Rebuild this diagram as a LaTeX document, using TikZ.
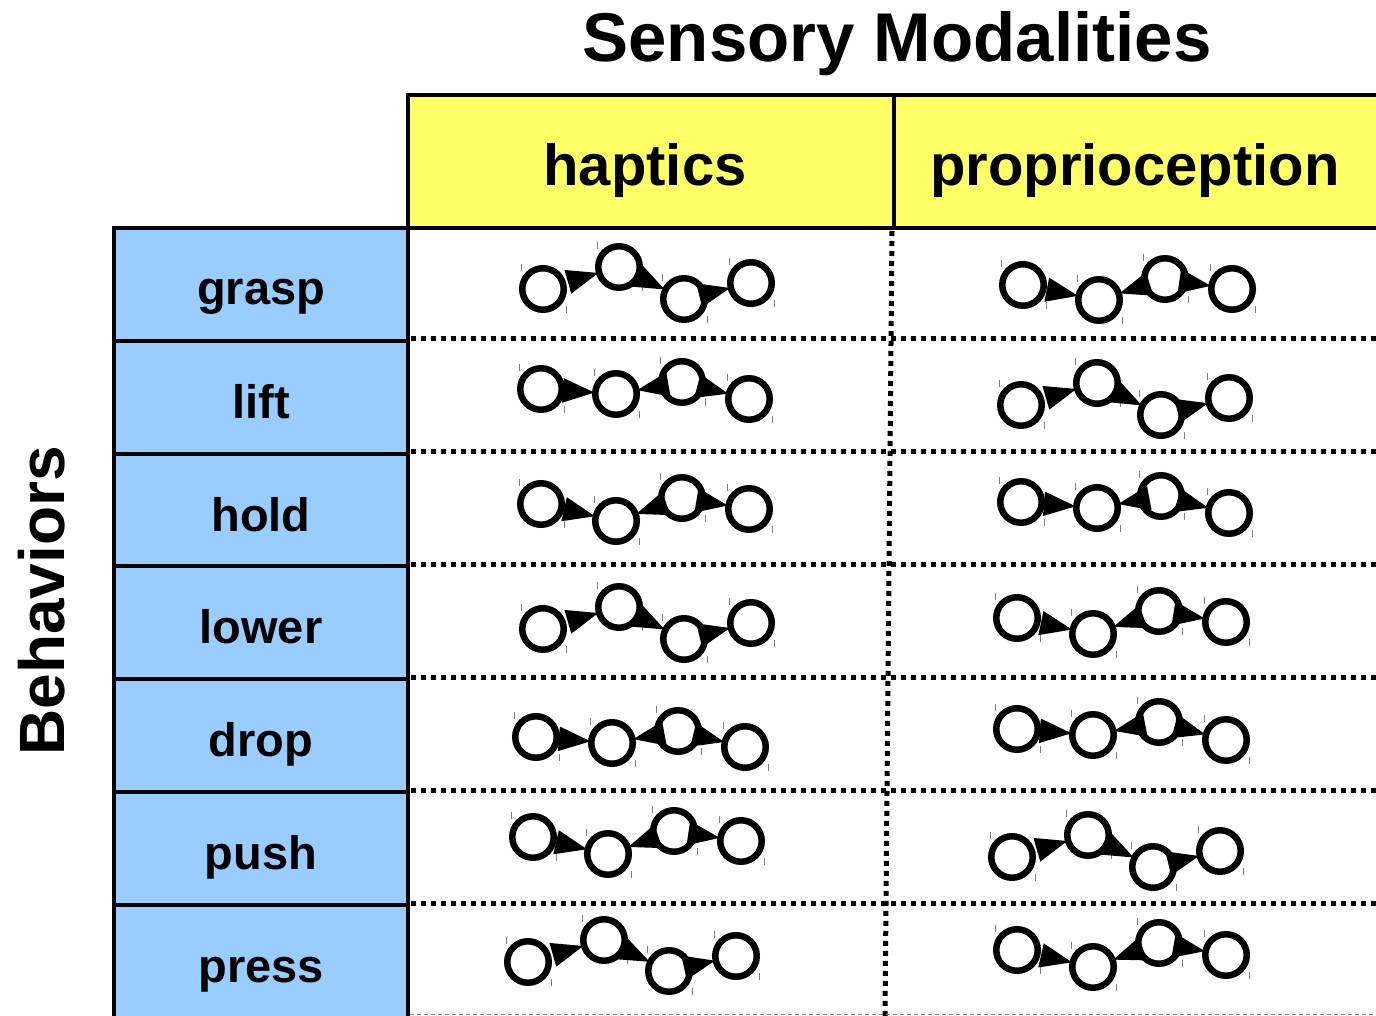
\documentclass[tikz,border=0pt]{standalone}
\usepackage{fontspec}
\setmainfont{Liberation Sans}
\usetikzlibrary{calc}
\definecolor{hdryellow}{RGB}{255,255,102}
\definecolor{rowblue}{RGB}{153,204,255}
\tikzset{
  circ/.style={circle, draw=black, line width=6.5pt, minimum size=41.5pt, inner sep=0pt},
  ticksty/.style={draw=gray, line width=0.8pt},
  wedgefill/.style={fill=black, draw=black, line width=2.5pt, line join=miter},
  thickline/.style={line width=4.5pt},
  dotline/.style={line width=5pt, dash pattern=on 5pt off 5pt},
  baselabel/.style={anchor=base, inner sep=0pt},
  titletext/.style={baselabel, font=\fontsize{69}{72}\selectfont\bfseries},
  hdrtext/.style={baselabel, font=\fontsize{58}{60}\selectfont\bfseries},
  rowlabel/.style={baselabel, font=\fontsize{47}{50}\selectfont\bfseries},
  sidetext/.style={baselabel, font=\fontsize{64}{66}\selectfont\bfseries, rotate=90},
}
\newcommand\circnode[3]{%
  \node[circ] (#1) at (#2,#3) {};
  \draw[ticksty] (#2-22,#3-25) -- (#2-22,#3-18);
  \draw[ticksty] (#2+23,#3+17) -- (#2+23,#3+24);
}
\newcommand\edgewedge[2]{%
  \fill[wedgefill] ($(#2)!25pt!(#1)$) -- ($(#2)!52pt!(#1)!10.5pt!90:(#1)$) -- ($(#2)!52pt!(#1)!10.5pt!-90:(#1)$) -- cycle;
}
\newcommand\chainA[9]{%
  \circnode{#1a}{#2}{#3}\circnode{#1b}{#4}{#5}\circnode{#1c}{#6}{#7}\circnode{#1d}{#8}{#9}%
  \edgewedge{#1a}{#1b}\edgewedge{#1b}{#1c}\edgewedge{#1c}{#1d}%
}
\newcommand\chainB[9]{%
  \circnode{#1a}{#2}{#3}\circnode{#1b}{#4}{#5}\circnode{#1c}{#6}{#7}\circnode{#1d}{#8}{#9}%
  \edgewedge{#1a}{#1b}\edgewedge{#1c}{#1b}\edgewedge{#1c}{#1d}%
}
\begin{document}
\begin{tikzpicture}[x=1pt,y=-1pt]
\useasboundingbox (0,0) rectangle (1376,1016);
% backgrounds
\fill[hdryellow] (408,95) rectangle (1376,228);
\fill[rowblue] (114,228) rectangle (408,1016);
% dotted grid
\foreach \yy in {338.5,451.5,564.5,677.5,790.5,903.5}
  \draw[dotline] (411,\yy) -- (1376,\yy);
\coordinate (vtop) at (892,231);
\coordinate (vbot) at (885,1016);
\draw[dotline] (vtop) -- (vbot);
\coordinate (bl) at (410,1014.5);
\coordinate (br) at (1376,1014.5);
\draw[gray, line width=1pt, dash pattern=on 4pt off 3pt] (bl) -- (br);
% solid frame lines
\draw[thickline] (406,95) -- (1376,95);
\draw[thickline] (408,93) -- (408,1016);
\draw[thickline] (894,95) -- (894,228);
\draw[thickline] (112,228) -- (1376,228);
\draw[thickline] (114,226) -- (114,1016);
\foreach \yy in {341,454,566,679,792,905}
  \draw[thickline] (114,\yy) -- (408,\yy);
% texts
\node[titletext] (title) at (897,62) {Sensory Modalities};
\node[hdrtext] (hap) at (645,186) {haptics};
\node[hdrtext] (prop) at (1135,186) {proprioception};
\node[sidetext] (beh) at (64,601) {Behaviors};
\node[rowlabel] (rgrasp) at (261,305) {grasp};
\node[rowlabel] (rlift) at (261,418) {lift};
\node[rowlabel] (rhold) at (261,531) {hold};
\node[rowlabel] (rlower) at (261,643) {lower};
\node[rowlabel] (rdrop) at (261,756) {drop};
\node[rowlabel] (rpush) at (261,869) {push};
\node[rowlabel] (rpress) at (261,982) {press};
% graphs
\chainA{gH}{543}{289}{619}{267}{684}{299}{751}{283}
\chainB{gP}{1023}{285}{1099}{300}{1165}{279}{1232}{289}
\chainB{lH}{541}{389}{616}{394}{682}{382}{749}{399}
\chainA{lP}{1021}{405}{1097}{383}{1161}{415}{1229}{398}
\chainB{hH}{541}{504}{616}{521}{682}{498}{749}{509}
\chainB{hP}{1021}{502}{1097}{508}{1161}{496}{1229}{513}
\chainA{wH}{543}{629}{619}{607}{684}{639}{751}{623}
\chainB{wP}{1017}{618}{1093}{634}{1159}{611}{1226}{622}
\chainB{dH}{536}{737}{612}{743}{678}{731}{745}{747}
\chainB{dP}{1017}{729}{1093}{735}{1159}{722}{1226}{740}
\chainB{pH}{533}{837}{608}{854}{674}{831}{741}{841}
\chainA{pP}{1012}{857}{1088}{835}{1153}{867}{1220}{851}
\chainA{sH}{528}{962}{604}{940}{669}{971}{736}{956}
\chainB{sP}{1017}{950}{1093}{967}{1159}{943}{1226}{955}
\end{tikzpicture}
\end{document}
